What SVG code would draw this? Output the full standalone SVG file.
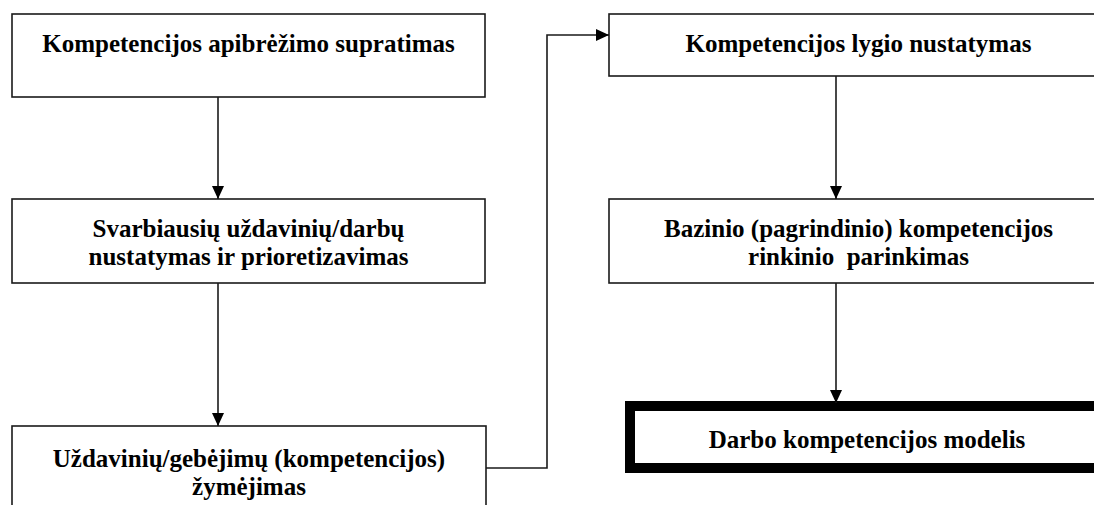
<svg xmlns="http://www.w3.org/2000/svg" width="1094" height="505" viewBox="0 0 1094 505">
  <style>
    .box { fill: #ffffff; stroke: #1a1a1a; stroke-width: 1.6; }
    .thick { fill: #ffffff; stroke: #000000; stroke-width: 10; }
    .lbl { font-family: "Liberation Serif", "Times New Roman", serif; font-weight: bold; font-size: 25px; fill: #000000; text-anchor: middle; white-space: pre; }
    .conn { fill: none; stroke: #1a1a1a; stroke-width: 1.6; }
  </style>
  <defs>
    <marker id="arrow" markerUnits="userSpaceOnUse" markerWidth="14" markerHeight="13" refX="13" refY="6" orient="auto">
      <path d="M0,0 L13,6 L0,12 z" fill="#000000"/>
    </marker>
  </defs>
  <rect x="0" y="0" width="1094" height="505" fill="#ffffff"/>

  <g id="n1">
    <rect class="box" x="12" y="14" width="473" height="83"/>
    <text class="lbl" x="248.5" y="52">Kompetencijos apibrėžimo supratimas</text>
  </g>
  <g id="n2">
    <rect class="box" x="12" y="199" width="473" height="84"/>
    <text class="lbl" x="248.5" y="237">Svarbiausių uždavinių/darbų</text>
    <text class="lbl" x="248.5" y="265">nustatymas ir prioretizavimas</text>
  </g>
  <g id="n3">
    <rect class="box" x="12" y="426" width="474" height="110"/>
    <text class="lbl" x="249" y="467">Uždavinių/gebėjimų (kompetencijos)</text>
    <text class="lbl" x="249" y="495">žymėjimas</text>
  </g>
  <g id="n4">
    <rect class="box" x="609" y="14" width="499" height="62"/>
    <text class="lbl" x="858.5" y="52">Kompetencijos lygio nustatymas</text>
  </g>
  <g id="n5">
    <rect class="box" x="609" y="199" width="499" height="84"/>
    <text class="lbl" x="858.5" y="237">Bazinio (pagrindinio) kompetencijos</text>
    <text class="lbl" x="858.5" y="265" xml:space="preserve">rinkinio  parinkimas</text>
  </g>
  <g id="n6">
    <rect class="thick" x="630" y="406" width="480" height="62"/>
    <text class="lbl" x="867" y="448">Darbo kompetencijos modelis</text>
  </g>

  <g id="connectors">
    <path class="conn" d="M218,97 L218,199" marker-end="url(#arrow)"/>
    <path class="conn" d="M218,283 L218,426" marker-end="url(#arrow)"/>
    <path class="conn" d="M486,468 L547,468 L547,35 L609,35" marker-end="url(#arrow)"/>
    <path class="conn" d="M836,76 L836,199" marker-end="url(#arrow)"/>
    <path class="conn" d="M836,283 L836,403" marker-end="url(#arrow)"/>
  </g>
</svg>
